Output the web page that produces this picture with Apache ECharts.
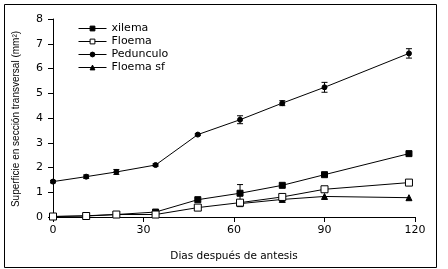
<!DOCTYPE html>
<html><head><meta charset="utf-8">
<script src="https://cdn.jsdelivr.net/npm/echarts@6/dist/echarts.min.js"></script>
<style>html,body{margin:0;padding:0;background:#fff}#c{width:448px;height:269px}</style>
</head><body><div id="c"></div>
<script>
var days = [0, 11, 21, 34, 48, 62, 76, 90, 118];
var xilema = [0.02, 0.05, 0.1, 0.2, 0.7, 0.96, 1.28, 1.71, 2.56];
var floema = [0.02, 0.04, 0.1, 0.1, 0.38, 0.58, 0.81, 1.12, 1.39];
var pedunculo = [1.43, 1.63, 1.82, 2.1, 3.33, 3.93, 4.6, 5.24, 6.61];
var pedunculoErr = [0.05, 0.07, 0.1, 0.05, 0.04, 0.16, 0.1, 0.2, 0.19];
var floemaSf = [null, null, null, null, null, 0.54, 0.71, 0.83, 0.78];
var xilemaErr = [0, 0, 0, 0, 0, 0.35, 0, 0, 0];
var xTicks = [0, 30, 60, 90, 120];
var yTicks = [0, 1, 2, 3, 4, 5, 6, 7, 8];

function pairs(v) { return days.map(function (d, i) { return [d, v[i]]; }).filter(function(p){return p[1]!=null;}); }
function errData(v, e) { return days.map(function (d, i) { return [d, v[i] - e[i], v[i] + e[i]]; }).filter(function(p){return p[2]>p[1];}); }
function errRender(params, api) {
  var x = api.value(0);
  var lo = api.coord([x, api.value(1)]);
  var hi = api.coord([x, api.value(2)]);
  var w = 3;
  var st = { stroke: '#000', lineWidth: 1 };
  return { type: 'group', children: [
    { type: 'line', shape: { x1: lo[0], y1: lo[1], x2: hi[0], y2: hi[1] }, style: st },
    { type: 'line', shape: { x1: lo[0] - w, y1: lo[1], x2: lo[0] + w, y2: lo[1] }, style: st },
    { type: 'line', shape: { x1: hi[0] - w, y1: hi[1], x2: hi[0] + w, y2: hi[1] }, style: st }
  ]};
}
var font = 'DejaVu Sans';
var chart = echarts.init(document.getElementById('c'), null, { renderer: 'canvas' });
var lineStyle = { color: '#000', width: 1 };
chart.setOption({
  animation: false,
  backgroundColor: '#fff',
  grid: { left: 53, right: 33, top: 19, bottom: 52, containLabel: false },
  xAxis: {
    type: 'value', min: 0, max: 120, interval: 30,
    name: 'Dias después de antesis', nameLocation: 'middle', nameGap: 34,
    nameTextStyle: { fontFamily: font, fontSize: 10.5, color: '#000' },
    axisLine: { lineStyle: { color: '#000', width: 1 } },
    axisTick: { show: true, length: 5, lineStyle: { color: '#000' } },
    axisLabel: { fontFamily: font, fontSize: 11, color: '#000', margin: 8,
      formatter: function (v) { return xTicks.indexOf(v) >= 0 ? String(v) : ''; } },
    splitLine: { show: false }
  },
  yAxis: {
    type: 'value', min: 0, max: 8, interval: 1,
    axisLine: { show: true, lineStyle: { color: '#000', width: 1 } },
    axisTick: { show: true, length: 5, lineStyle: { color: '#000' } },
    axisLabel: { fontFamily: font, fontSize: 11, color: '#000', margin: 10,
      formatter: function (v) { return yTicks.indexOf(v) >= 0 ? String(v) : ''; } },
    splitLine: { show: false }
  },
  legend: {
    orient: 'vertical', left: 73, top: 17, itemWidth: 28, itemHeight: 6, itemGap: 0,
    data: ['xilema', 'Floema', 'Pedunculo', 'Floema sf'],
    textStyle: { fontFamily: font, fontSize: 11, color: '#000', lineHeight: 13 },
    lineStyle: { width: 1, color: '#000' },
    itemStyle: { borderWidth: 1, borderColor: '#000' }
  },
  graphic: [
    { type: 'rect', shape: { x: 4.5, y: 4.5, width: 432, height: 263 }, style: { fill: 'none', stroke: '#000', lineWidth: 1 }, z: 100 },
    { type: 'text', x: 16, y: 119, rotation: Math.PI / 2,
      style: { text: 'Superficie en sección transversal (mm²)', font: '10px "Liberation Sans"', fill: '#000', align: 'center', verticalAlign: 'middle' } }
  ],
  series: [
    { name: 'xilema', type: 'line', data: pairs(xilema), symbol: 'rect', symbolSize: 6,
      lineStyle: lineStyle, itemStyle: { color: '#000', borderColor: '#000' }, z: 5 },
    { name: 'Floema', type: 'line', data: pairs(floema), symbol: 'rect', symbolSize: 7,
      lineStyle: lineStyle, itemStyle: { color: '#fff', borderColor: '#000', borderWidth: 1 }, z: 6 },
    { name: 'Pedunculo', type: 'line', data: pairs(pedunculo), symbol: 'circle', symbolSize: 5,
      lineStyle: lineStyle, itemStyle: { color: '#000', borderColor: '#000' }, z: 5 },
    { name: 'Floema sf', type: 'line', data: pairs(floemaSf), symbol: 'triangle', symbolSize: 6,
      lineStyle: lineStyle, itemStyle: { color: '#000', borderColor: '#000' }, z: 4 },
    { type: 'custom', renderItem: errRender, data: errData(pedunculo, pedunculoErr), z: 7, silent: true },
    { type: 'custom', renderItem: errRender, data: errData(xilema, xilemaErr), z: 3, silent: true }
  ]
});
</script></body></html>
